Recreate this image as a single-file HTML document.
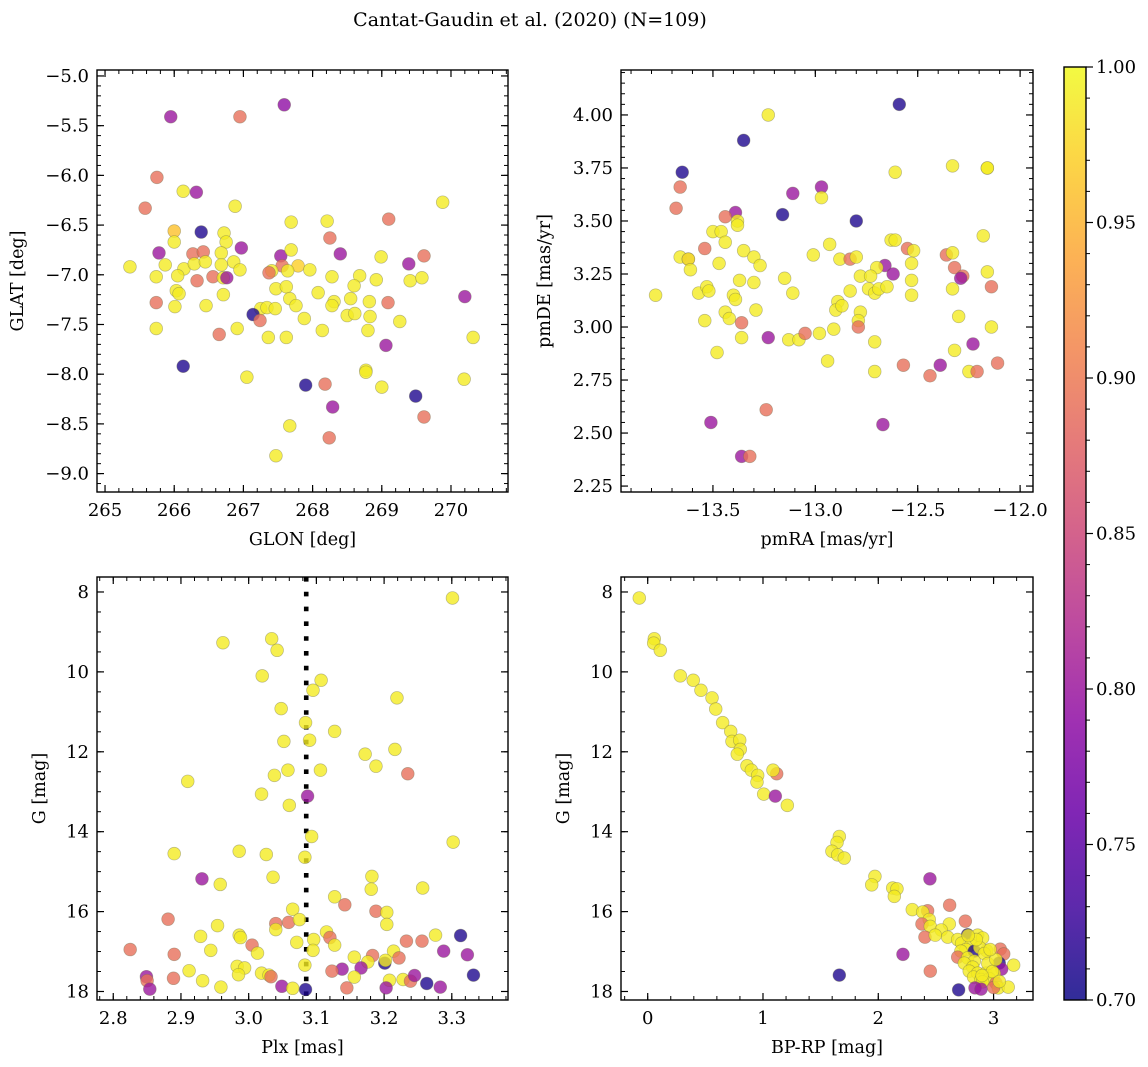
<!DOCTYPE html>
<html><head><meta charset="utf-8">
<style>
html,body{margin:0;padding:0;background:#fff;}
svg{display:block;font-family:"DejaVu Serif","Liberation Serif",serif;}
</style></head>
<body>
<svg id="fig" width="1148" height="1067" viewBox="0 0 1148 1067" xmlns="http://www.w3.org/2000/svg">
<defs>
<linearGradient id="cbgrad" x1="0" y1="1" x2="0" y2="0">
<stop offset="0" stop-color="#0d0887"/><stop offset="0.1" stop-color="#41049d"/><stop offset="0.2" stop-color="#6a00a8"/><stop offset="0.3" stop-color="#8f0da4"/><stop offset="0.4" stop-color="#b12a90"/><stop offset="0.5" stop-color="#cc4778"/><stop offset="0.6" stop-color="#e16462"/><stop offset="0.7" stop-color="#f2844b"/><stop offset="0.8" stop-color="#fca636"/><stop offset="0.9" stop-color="#fcce25"/><stop offset="1" stop-color="#f0f921"/>
</linearGradient>
</defs>
<text x="530" y="26" font-size="19" text-anchor="middle">Cantat-Gaudin et al. (2020) (N=109)</text>
<g id="layer"></g>
</svg>
<script>
// ---- Data: top-left (GLON vs GLAT)
const tlGlon=[265.95,266.95,267.59,265.75,266.13,266.32,265.58,266.88,269.88,267.69,268.21,269.10,266.00,266.39,266.72,266.00,266.75,268.25,266.97,265.78,266.27,266.42,266.68,267.54,267.69,268.40,268.99,269.61,269.39,265.36,265.87,266.14,266.29,266.45,266.68,266.86,266.95,267.56,267.79,267.41,267.37,267.64,267.96,265.74,266.05,266.33,266.56,266.71,266.76,268.28,268.68,268.92,269.41,269.58,268.60,265.74,266.03,266.07,266.01,266.71,266.46,267.47,267.62,267.67,267.76,268.08,268.31,268.28,268.55,268.82,269.09,270.20,267.25,267.34,267.46,267.14,267.24,265.74,266.65,266.91,267.36,267.62,267.88,268.14,268.50,268.61,268.83,268.80,269.26,270.32,269.06,266.13,267.05,267.90,268.18,268.77,268.77,269.00,270.19,269.49,268.29,269.61,267.67,268.24,267.47];
const tlGlat=[-5.41,-5.41,-5.29,-6.02,-6.16,-6.17,-6.33,-6.31,-6.27,-6.47,-6.46,-6.44,-6.56,-6.57,-6.58,-6.67,-6.67,-6.63,-6.73,-6.78,-6.79,-6.77,-6.78,-6.81,-6.75,-6.79,-6.82,-6.81,-6.89,-6.92,-6.90,-6.94,-6.89,-6.87,-6.90,-6.87,-6.95,-6.91,-6.91,-6.96,-6.98,-6.96,-6.95,-7.02,-7.01,-7.06,-7.02,-7.03,-7.03,-7.02,-7.01,-7.05,-7.06,-7.03,-7.11,-7.28,-7.16,-7.19,-7.32,-7.20,-7.31,-7.14,-7.12,-7.24,-7.31,-7.18,-7.27,-7.31,-7.24,-7.27,-7.28,-7.22,-7.34,-7.33,-7.34,-7.40,-7.46,-7.54,-7.60,-7.54,-7.63,-7.63,-7.44,-7.56,-7.41,-7.39,-7.42,-7.56,-7.47,-7.63,-7.71,-7.92,-8.03,-8.11,-8.10,-7.96,-7.98,-8.13,-8.05,-8.22,-8.33,-8.43,-8.52,-8.64,-8.82];
const tlProb=[0.80,0.89,0.79,0.89,0.99,0.80,0.89,0.99,0.99,0.99,0.99,0.89,0.96,0.71,0.99,0.99,0.99,0.89,0.80,0.80,0.89,0.89,0.99,0.80,0.99,0.80,0.99,0.89,0.80,0.99,0.99,0.99,0.99,0.99,0.99,0.99,0.99,0.89,0.97,0.99,0.89,0.99,0.99,0.99,0.99,0.89,0.89,0.99,0.80,0.99,0.99,0.99,0.99,0.99,0.99,0.89,0.99,0.99,0.99,0.99,0.99,0.99,0.99,0.99,0.99,0.99,0.99,0.99,0.99,0.99,0.89,0.80,0.99,0.99,0.99,0.71,0.89,0.99,0.89,0.99,0.99,0.99,0.99,0.99,0.99,0.99,0.99,0.99,0.99,0.99,0.80,0.71,0.99,0.71,0.89,0.99,0.99,0.99,0.99,0.71,0.80,0.89,0.99,0.89,0.99];
// ---- Data: top-right (pmRA vs pmDE)
const trPmra=[-12.59,-13.23,-13.35,-13.65,-13.66,-13.68,-12.61,-12.33,-12.16,-12.16,-13.11,-12.97,-12.97,-13.16,-12.80,-13.39,-13.44,-13.38,-13.38,-13.50,-13.46,-13.44,-13.54,-13.35,-12.18,-12.93,-13.01,-12.63,-12.61,-12.55,-12.52,-12.36,-12.33,-13.66,-13.62,-13.62,-13.30,-13.27,-13.47,-13.61,-12.88,-12.83,-12.80,-12.53,-12.66,-12.70,-12.62,-12.32,-12.28,-12.29,-12.16,-12.78,-12.73,-13.37,-13.30,-13.15,-12.53,-13.78,-13.57,-13.53,-13.52,-13.40,-13.39,-13.11,-13.29,-13.44,-13.42,-13.54,-13.36,-13.36,-13.23,-13.13,-13.08,-13.05,-12.98,-12.91,-13.48,-12.94,-12.89,-12.90,-12.87,-12.83,-12.74,-12.71,-12.69,-12.65,-12.53,-12.78,-12.79,-12.79,-12.71,-12.71,-12.57,-12.44,-12.39,-12.32,-12.30,-12.33,-12.14,-12.14,-12.23,-12.25,-12.21,-12.11,-13.24,-13.51,-12.67,-13.36,-13.32];
const trPmde=[4.05,4.00,3.88,3.73,3.66,3.56,3.73,3.76,3.75,3.75,3.63,3.66,3.61,3.53,3.50,3.54,3.52,3.50,3.48,3.45,3.45,3.40,3.37,3.36,3.43,3.39,3.34,3.41,3.41,3.37,3.36,3.34,3.35,3.33,3.32,3.32,3.33,3.29,3.30,3.27,3.32,3.32,3.33,3.30,3.29,3.28,3.25,3.28,3.24,3.23,3.26,3.24,3.24,3.22,3.21,3.23,3.22,3.15,3.16,3.19,3.17,3.15,3.13,3.16,3.08,3.07,3.04,3.03,3.02,2.95,2.95,2.94,2.94,2.97,2.97,2.99,2.88,2.84,3.12,3.08,3.10,3.17,3.18,3.16,3.18,3.19,3.15,3.07,3.03,3.00,2.93,2.79,2.82,2.77,2.82,2.89,3.05,3.18,3.19,3.00,2.92,2.79,2.79,2.83,2.61,2.55,2.54,2.39,2.39];
const trProb=[0.71,0.99,0.71,0.71,0.89,0.89,0.99,0.99,0.99,0.99,0.80,0.80,0.99,0.71,0.71,0.80,0.89,0.99,0.99,0.99,0.99,0.99,0.89,0.99,0.99,0.99,0.99,0.99,0.99,0.89,0.99,0.89,0.99,0.99,0.89,0.99,0.99,0.99,0.99,0.99,0.99,0.89,0.99,0.99,0.80,0.99,0.80,0.89,0.89,0.80,0.99,0.99,0.99,0.99,0.99,0.99,0.99,0.99,0.99,0.99,0.99,0.99,0.99,0.99,0.99,0.99,0.99,0.99,0.89,0.99,0.80,0.99,0.99,0.89,0.99,0.99,0.99,0.99,0.99,0.99,0.99,0.99,0.99,0.99,0.99,0.99,0.99,0.99,0.99,0.89,0.99,0.99,0.89,0.89,0.80,0.99,0.99,0.99,0.89,0.99,0.80,0.99,0.89,0.89,0.89,0.80,0.80,0.80,0.89];
// ---- Data: bottom-left (Plx vs G)
const blPlx=[3.301,2.962,3.034,3.042,3.020,3.107,3.095,3.219,3.048,3.084,3.127,3.052,3.090,3.172,3.216,3.188,3.235,3.058,3.038,3.106,2.910,3.019,3.060,3.087,3.093,3.302,2.890,2.986,3.026,3.083,2.931,2.958,3.036,3.182,3.181,3.257,3.127,3.142,3.065,3.188,3.204,3.204,2.881,2.954,3.040,3.059,3.075,3.040,2.929,2.986,2.988,3.115,3.120,3.096,3.071,3.127,3.095,3.005,3.013,2.825,2.890,2.944,3.233,3.256,3.276,3.313,3.288,3.323,3.214,3.222,3.183,3.156,3.176,3.201,3.202,3.166,3.138,3.123,3.083,2.983,2.994,2.985,2.912,2.849,2.850,2.854,2.889,2.932,2.959,3.019,3.030,3.033,3.049,3.065,3.084,3.145,3.156,3.208,3.228,3.239,3.245,3.263,3.283,3.203,3.332];
const blG=[8.15,9.27,9.17,9.46,10.10,10.21,10.46,10.65,10.92,11.27,11.49,11.74,11.71,12.06,11.94,12.36,12.55,12.46,12.59,12.46,12.74,13.06,13.34,13.11,14.12,14.26,14.55,14.49,14.57,14.64,15.18,15.32,15.14,15.12,15.44,15.41,15.63,15.83,15.94,15.99,16.02,16.32,16.19,16.35,16.30,16.27,16.20,16.45,16.62,16.59,16.65,16.51,16.65,16.70,16.77,16.84,16.97,16.84,17.04,16.95,17.07,16.97,16.74,16.74,16.59,16.60,16.99,17.08,16.99,17.16,17.10,17.14,17.26,17.29,17.22,17.41,17.44,17.49,17.34,17.37,17.41,17.58,17.48,17.63,17.73,17.94,17.67,17.73,17.89,17.54,17.59,17.63,17.87,17.92,17.95,17.91,17.64,17.72,17.70,17.74,17.60,17.80,17.89,17.91,17.59];
const blProb=[0.99,0.99,0.99,0.99,0.99,0.99,0.99,0.99,0.99,0.99,0.99,0.99,0.99,0.99,0.99,0.99,0.89,0.99,0.99,0.99,0.99,0.99,0.99,0.80,0.99,0.99,0.99,0.99,0.99,0.99,0.80,0.99,0.99,0.99,0.99,0.99,0.99,0.89,0.99,0.89,0.99,0.99,0.89,0.99,0.89,0.89,0.99,0.99,0.99,0.99,0.99,0.99,0.89,0.99,0.99,0.99,0.99,0.89,0.99,0.89,0.89,0.99,0.89,0.89,0.99,0.71,0.80,0.80,0.99,0.89,0.89,0.99,0.99,0.71,0.99,0.80,0.80,0.89,0.99,0.99,0.99,0.99,0.99,0.80,0.89,0.80,0.89,0.99,0.99,0.99,0.99,0.89,0.80,0.99,0.71,0.89,0.99,0.99,0.99,0.89,0.80,0.71,0.80,0.80,0.71];
// ---- Data: bottom-right (BP-RP vs G)
const brBprp=[-0.073,0.057,0.052,0.109,0.283,0.395,0.462,0.558,0.590,0.650,0.720,0.731,0.798,0.803,0.777,0.861,0.899,0.954,0.948,1.119,1.087,1.006,1.107,1.211,1.662,1.642,1.598,1.648,1.705,1.971,1.943,2.125,2.162,2.139,2.448,2.619,2.295,2.428,2.385,2.442,2.379,2.451,2.616,2.755,2.546,2.405,2.494,2.602,2.775,2.862,2.905,2.689,2.723,2.804,2.761,2.717,2.833,2.940,3.058,3.088,2.214,2.689,2.775,2.833,2.746,3.049,3.174,3.070,2.819,2.789,2.862,2.934,3.006,2.827,2.891,2.963,2.905,2.451,1.662,3.021,2.697,2.839,2.891,3.041,3.127,3.001,2.88,2.92,2.95,2.99,3.02,2.97,2.85,2.90,3.05,2.78];
const brG=[8.15,9.17,9.28,9.46,10.10,10.21,10.46,10.65,10.93,11.27,11.49,11.74,11.71,11.94,12.06,12.35,12.46,12.59,12.76,12.55,12.46,13.06,13.11,13.34,14.12,14.27,14.49,14.58,14.66,15.12,15.33,15.41,15.43,15.62,15.18,15.84,15.95,15.98,16.01,16.20,16.31,16.37,16.31,16.24,16.46,16.64,16.59,16.64,16.58,16.59,16.66,16.70,16.79,16.83,16.95,16.99,16.99,16.98,16.94,17.06,17.07,17.14,17.16,17.24,17.29,17.29,17.34,17.44,17.39,17.49,17.54,17.54,17.55,17.64,17.70,17.68,17.76,17.49,17.59,17.79,17.96,17.91,17.94,17.91,17.89,17.90,16.90,17.05,17.30,17.50,17.20,16.95,16.70,17.60,17.75,16.60];
const brProb=[0.99,0.99,0.99,0.99,0.99,0.99,0.99,0.99,0.99,0.99,0.99,0.99,0.99,0.99,0.99,0.99,0.99,0.99,0.99,0.89,0.99,0.99,0.80,0.99,0.99,0.99,0.99,0.99,0.99,0.99,0.99,0.99,0.99,0.99,0.80,0.89,0.99,0.89,0.99,0.99,0.89,0.99,0.99,0.89,0.99,0.89,0.99,0.99,0.71,0.99,0.99,0.99,0.99,0.99,0.99,0.99,0.71,0.99,0.89,0.89,0.80,0.89,0.99,0.99,0.99,0.71,0.99,0.80,0.99,0.99,0.99,0.99,0.99,0.99,0.99,0.99,0.99,0.89,0.71,0.89,0.71,0.80,0.80,0.99,0.99,0.89,0.99,0.99,0.99,0.99,0.99,0.99,0.99,0.99,0.99,0.99];
// ---- Ticks
const tlXTicks=[265,266,267,268,269,270];
const tlYTicks=[-5.0,-5.5,-6.0,-6.5,-7.0,-7.5,-8.0,-8.5,-9.0];
const trXTicks=[-13.5,-13.0,-12.5,-12.0];
const trYTicks=[2.25,2.50,2.75,3.00,3.25,3.50,3.75,4.00];
const blXTicks=[2.8,2.9,3.0,3.1,3.2,3.3];
const gTicks=[8,10,12,14,16,18];
const brXTicks=[0,1,2,3];
const cbTicks=[0.70,0.75,0.80,0.85,0.90,0.95,1.00];
const plxMean=3.085;

const NS="http://www.w3.org/2000/svg";
const layer=document.getElementById('layer');
function mk(tag,attrs,parent){const e=document.createElementNS(NS,tag);for(const k in attrs)e.setAttribute(k,attrs[k]);(parent||layer).appendChild(e);return e;}
const stops=[[0,[13,8,135]],[0.1,[65,4,157]],[0.2,[106,0,168]],[0.3,[143,13,164]],[0.4,[177,42,144]],[0.5,[204,71,120]],[0.6,[225,100,98]],[0.7,[242,132,75]],[0.8,[252,166,54]],[0.9,[252,206,37]],[1,[240,249,33]]];
function plasma(v){let t=(v-0.7)/0.3;t=Math.max(0,Math.min(1,t));for(let i=1;i<stops.length;i++){if(t<=stops[i][0]){const a=stops[i-1],b=stops[i];const f=(t-a[0])/(b[0]-a[0]);const c=a[1].map((x,j)=>Math.round(x+(b[1][j]-x)*f));return `rgb(${c[0]},${c[1]},${c[2]})`;}}return 'rgb(240,249,33)';}
function fmt(v,d){const s=Math.abs(v).toFixed(d);return (v<0?'\u2212':'')+s;}

function panel(o){
  const g=mk('g',{});
  
  
  const sx=v=>o.x0+(v-o.xmin)/(o.xmax-o.xmin)*(o.x1-o.x0);
  const sy=v=>o.y0+(v-o.yTop)/(o.yBot-o.yTop)*(o.y1-o.y0);
  const tk=mk('g',{stroke:'#000','stroke-width':1},g);
  
  
  const lo=Math.min(o.xmin,o.xmax),hi=Math.max(o.xmin,o.xmax);
  for(let v=Math.ceil(lo/o.xMinor-1e-6)*o.xMinor;v<=hi+1e-9;v+=o.xMinor){const x=sx(v);mk('line',{x1:x,x2:x,y1:o.y1,y2:o.y1-4},tk);mk('line',{x1:x,x2:x,y1:o.y0,y2:o.y0+4},tk);}
  const ylo=Math.min(o.yTop,o.yBot),yhi=Math.max(o.yTop,o.yBot);
  for(let v=Math.ceil(ylo/o.yMinor-1e-6)*o.yMinor;v<=yhi+1e-9;v+=o.yMinor){const y=sy(v);mk('line',{x1:o.x0,x2:o.x0+4,y1:y,y2:y},tk);mk('line',{x1:o.x1,x2:o.x1-4,y1:y,y2:y},tk);}
  o.xTicks.forEach(v=>{const x=sx(v);mk('line',{x1:x,x2:x,y1:o.y1,y2:o.y1-7,'stroke-width':1.2},tk);mk('line',{x1:x,x2:x,y1:o.y0,y2:o.y0+7,'stroke-width':1.2},tk);
    const t=mk('text',{x:x,y:o.y1+24,'font-size':18,'text-anchor':'middle'},g);t.textContent=fmt(v,o.xDec);
    
    });
  o.yTicks.forEach(v=>{const y=sy(v);mk('line',{x1:o.x0,x2:o.x0+7,y1:y,y2:y,'stroke-width':1.2},tk);mk('line',{x1:o.x1,x2:o.x1-7,y1:y,y2:y,'stroke-width':1.2},tk);
    const t=mk('text',{x:o.x0-8,y:y+6,'font-size':18,'text-anchor':'end'},g);t.textContent=fmt(v,o.yDec);
    
    });
  if(o.vline!==undefined){const x=sx(o.vline);const l=mk('line',{x1:x,x2:x,y1:o.y0,y2:o.y1,stroke:'#000','stroke-width':4.6,'stroke-dasharray':'4.6 10.2'},g);
    
    }
  const pts=mk('g',{},g);
  
  
  for(let i=0;i<o.xs.length;i++){
    const c=mk('circle',{cx:sx(o.xs[i]),cy:sy(o.ys[i]),r:6.4,fill:plasma(o.cs[i]),'fill-opacity':0.8,stroke:'#6f6f50','stroke-opacity':0.45,'stroke-width':0.7},pts);
    
    
  }
  const fr=mk('rect',{x:o.x0,y:o.y0,width:o.x1-o.x0,height:o.y1-o.y0,fill:'none',stroke:'#000','stroke-width':1.4},g);
  
  
  const xl=mk('text',{x:(o.x0+o.x1)/2,y:o.y1+53,'font-size':17.5,'text-anchor':'middle'},g);xl.textContent=o.xlabel;
  
  
  const cy=(o.y0+o.y1)/2;
  const yl=mk('text',{x:o.ylx,y:cy,'font-size':17.5,'text-anchor':'middle',transform:`rotate(-90 ${o.ylx} ${cy})`},g);yl.textContent=o.ylabel;
  
  
}

panel({name:'glon-glat-panel',x0:97,x1:508,y0:70,y1:492,xmin:264.884,xmax:270.824,yTop:-4.94,yBot:-9.185,xTicks:tlXTicks,yTicks:tlYTicks,xMinor:0.2,yMinor:0.1,xDec:0,yDec:1,xs:tlGlon,ys:tlGlat,cs:tlProb,xlabel:'GLON [deg]',ylabel:'GLAT [deg]',ylx:23});
panel({name:'pm-panel',x0:621,x1:1033,y0:70,y1:492,xmin:-13.949,xmax:-11.937,yTop:4.212,yBot:2.222,xTicks:trXTicks,yTicks:trYTicks,xMinor:0.1,yMinor:0.05,xDec:1,yDec:2,xs:trPmra,ys:trPmde,cs:trProb,xlabel:'pmRA [mas/yr]',ylabel:'pmDE [mas/yr]',ylx:550});
panel({name:'plx-g-panel',x0:97,x1:508,y0:577,y1:1000,xmin:2.776,xmax:3.383,yTop:7.625,yBot:18.213,xTicks:blXTicks,yTicks:gTicks,xMinor:0.02,yMinor:0.5,xDec:1,yDec:0,xs:blPlx,ys:blG,cs:blProb,xlabel:'Plx [mas]',ylabel:'G [mag]',ylx:45,vline:plxMean});
panel({name:'cmd-panel',x0:621,x1:1033,y0:577,y1:1000,xmin:-0.2316,xmax:3.342,yTop:7.625,yBot:18.213,xTicks:brXTicks,yTicks:gTicks,xMinor:0.2,yMinor:0.5,xDec:0,yDec:0,xs:brBprp,ys:brG,cs:brProb,xlabel:'BP-RP [mag]',ylabel:'G [mag]',ylx:569});

// colorbar
(function(){
  const x0=1064,x1=1086,y0=67,y1=1000;
  const g=mk('g',{});
  
  
  mk('rect',{x:x0,y:y0,width:x1-x0,height:y1-y0,fill:'url(#cbgrad)','fill-opacity':0.85},g);
  mk('rect',{x:x0,y:y0,width:x1-x0,height:y1-y0,fill:'none',stroke:'#000','stroke-width':1.4},g);
  const sy=v=>y1-(v-0.7)/0.3*(y1-y0);
  for(let v=0.7;v<=1.0001;v+=0.01){const y=sy(v);mk('line',{x1:x1,x2:x1+4,y1:y,y2:y,stroke:'#000','stroke-width':1},g);}
  cbTicks.forEach(v=>{const y=sy(v);mk('line',{x1:x1,x2:x1+7,y1:y,y2:y,stroke:'#000','stroke-width':1.2},g);
    const t=mk('text',{x:x1+10,y:y+6,'font-size':18},g);t.textContent=v.toFixed(2);
    
    });
})();
</script>
</body></html>
